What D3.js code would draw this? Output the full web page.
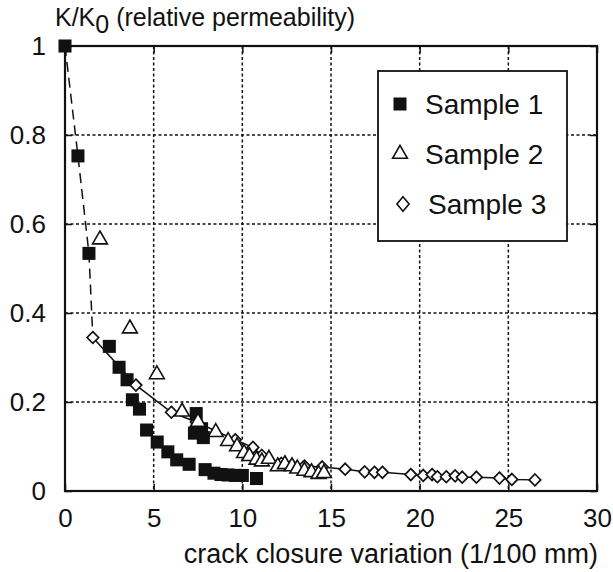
<!doctype html>
<html>
<head>
<style>
  body { margin: 0; background: #fff; }
  text { font-family: "Liberation Sans", Arial, sans-serif; fill: #111; }
</style>
<script src="https://d3js.org/d3.v7.min.js"></script>
</head>
<body>
<svg width="613" height="572"></svg>
<script>
// sample data: [closure, K/K0]
var sample1 = [[0,1],[0.73,0.753],[1.35,0.534],[2.5,0.325],[3.05,0.278],[3.5,0.25],[3.8,0.205],
  [4.2,0.184],[4.6,0.137],[5.2,0.11],[5.8,0.088],[6.3,0.07],[7.0,0.06],[7.4,0.174],[7.3,0.13],
  [7.7,0.14],[7.8,0.12],[7.9,0.048],[8.4,0.04],[8.8,0.037],[9.2,0.036],[9.6,0.035],[10.0,0.035],[10.8,0.028]];
var sample2 = [[1.97,0.565],[3.66,0.365],[5.18,0.262],[6.6,0.178],[7.5,0.155],[8.5,0.132],[9.2,0.112],
  [9.7,0.1],[10.1,0.085],[10.4,0.078],[10.8,0.07],[11.1,0.066],[11.5,0.072],[12.0,0.055],[12.4,0.06],
  [12.8,0.055],[13.1,0.05],[13.5,0.045],[13.9,0.042],[14.3,0.038],[14.6,0.04]];
var sample3 = [[1.57,0.345],[4.0,0.238],[6.0,0.177],[7.4,0.155],[9.6,0.115],[10.6,0.098],[11.1,0.08],
  [12.2,0.062],[12.8,0.058],[13.5,0.056],[14.5,0.054],[15.8,0.049],[16.9,0.043],[17.45,0.042],[17.9,0.042],
  [19.5,0.037],[20.2,0.035],[20.7,0.037],[21.0,0.032],[21.5,0.032],[22.0,0.034],[22.4,0.031],[23.2,0.031],
  [24.5,0.029],[25.2,0.026],[26.5,0.025]];
// dashed start of the curve
var dashedPart = [[0,1],[0.73,0.753],[1.35,0.534],[1.57,0.345]];
var xTicks = [0,5,10,15,20,25,30];
var yTicks = [0,0.2,0.4,0.6,0.8,1];
var legendNames = ["Sample 1","Sample 2","Sample 3"];

var svg = d3.select("svg");
var pLeft = 65, pRight = 597, pTop = 46, pBottom = 491;

var x = d3.scaleLinear().domain([0,30]).range([pLeft,pRight]);
var y = d3.scaleLinear().domain([0,1]).range([pBottom,pTop]);

// grid
var g = svg.append("g");
g.selectAll(".vg").data(xTicks.slice(1,-1)).enter().append("line")
  .attr("x1", d => x(d)).attr("x2", d => x(d)).attr("y1", pTop).attr("y2", pBottom)
  .attr("stroke","#111").attr("stroke-width",1.5).attr("stroke-dasharray","3,2.5");
g.selectAll(".hg").data(yTicks.slice(1,-1)).enter().append("line")
  .attr("x1", pLeft).attr("x2", pRight).attr("y1", d => y(d)).attr("y2", d => y(d))
  .attr("stroke","#111").attr("stroke-width",1.5).attr("stroke-dasharray","3,2.5");

// axes with inward ticks
var xb = svg.append("g").attr("transform","translate(0," + pBottom + ")")
  .call(d3.axisBottom(x).tickValues(xTicks).tickSizeInner(-7).tickSizeOuter(0).tickPadding(18));
var xt = svg.append("g").attr("transform","translate(0," + pTop + ")")
  .call(d3.axisTop(x).tickValues(xTicks).tickSizeInner(-7).tickSizeOuter(0).tickFormat(""));
var yl = svg.append("g").attr("transform","translate(" + pLeft + ",0)")
  .call(d3.axisLeft(y).tickValues(yTicks).tickSizeInner(-7).tickSizeOuter(0).tickPadding(19)
    .tickFormat(d => d === 0 ? "0" : d === 1 ? "1" : d3.format(".1f")(d)));
var yr = svg.append("g").attr("transform","translate(" + pRight + ",0)")
  .call(d3.axisRight(y).tickValues(yTicks).tickSizeInner(-7).tickSizeOuter(0).tickFormat(""));
[xb,xt,yl,yr].forEach(function(a) {
  a.select(".domain").remove();
  a.selectAll("line").attr("stroke","#111").attr("stroke-width",1.5);
  a.selectAll("text").style("font-size","26px").attr("fill","#111")
    .style("font-family","Liberation Sans, Arial, sans-serif");
});

svg.append("rect").attr("x",pLeft).attr("y",pTop).attr("width",pRight-pLeft).attr("height",pBottom-pTop)
  .attr("fill","none").attr("stroke","#111").attr("stroke-width",2.2);

// lines
var line = d3.line().x(d => x(d[0])).y(d => y(d[1]));
svg.append("path").datum(dashedPart).attr("d",line).attr("fill","none")
  .attr("stroke","#111").attr("stroke-width",1.5).attr("stroke-dasharray","10,6");
svg.append("path").datum(sample3).attr("d",line).attr("fill","none")
  .attr("stroke","#111").attr("stroke-width",1.5);

// markers
var sq = d3.symbol().type(d3.symbolSquare).size(170);
var tri = d3.symbol().type(d3.symbolTriangle).size(95);
var dia = d3.symbol().type(d3.symbolDiamond).size(40);
var diaLg = d3.symbol().type(d3.symbolDiamond).size(50);

svg.selectAll(".s1").data(sample1).enter().append("path")
  .attr("d", sq).attr("transform", d => "translate(" + x(d[0]) + "," + y(d[1]) + ")")
  .attr("fill","#111");
svg.selectAll(".s3").data(sample3).enter().append("path")
  .attr("d", dia).attr("transform", d => "translate(" + x(d[0]) + "," + y(d[1]) + ") scale(1.7,1)")
  .attr("fill","#fff").attr("stroke","#111").attr("stroke-width",1.7).attr("vector-effect","non-scaling-stroke");
svg.selectAll(".s2").data(sample2).enter().append("path")
  .attr("d", tri).attr("transform", d => "translate(" + x(d[0]) + "," + y(d[1]) + ")")
  .attr("fill","#fff").attr("stroke","#111").attr("stroke-width",1.6);

// labels
var yt = svg.append("text").attr("x",55).attr("y",26).style("font-size","25px");
yt.append("tspan").text("K/K");
yt.append("tspan").attr("dy",7).text("0");
yt.append("tspan").attr("dy",-7).text(" (relative permeability)");

svg.append("text").attr("x",598).attr("y",563).attr("text-anchor","end")
  .style("font-size","27px").text("crack closure variation (1/100 mm)");

// legend
var lg = svg.append("g");
lg.append("rect").attr("x",378).attr("y",71).attr("width",189).attr("height",170)
  .attr("fill","#fff").attr("stroke","#111").attr("stroke-width",1.8);
var shapes = [sq, tri, diaLg];
legendNames.forEach(function(name, i) {
  var cy = 104 + i * 50;
  var p = lg.append("path").attr("d", shapes[i])
    .attr("transform","translate(" + (i === 2 ? 403 : 400) + "," + cy + ")" + (i === 2 ? " scale(1.6,1.1)" : ""))
    .attr("vector-effect","non-scaling-stroke");
  if (i === 0) p.attr("fill","#111");
  else p.attr("fill","#fff").attr("stroke","#111").attr("stroke-width",1.6);
  lg.append("text").attr("x", 425 + (i === 2 ? 3 : 0)).attr("y", cy + 10)
    .style("font-size","28px").text(name);
});
</script>
</body>
</html>
